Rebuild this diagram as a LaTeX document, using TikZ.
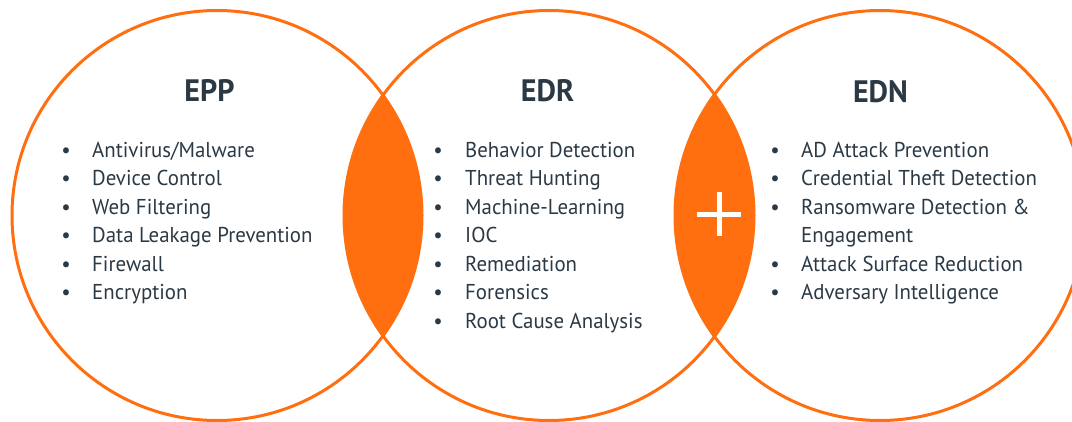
\documentclass[tikz,border=0pt]{standalone}
\usepackage{fontspec}
\setmainfont{PT Sans}[FakeStretch=0.97]
\usetikzlibrary{positioning}
\definecolor{flame}{HTML}{FF6F10}
\definecolor{ink}{HTML}{2B3945}
\tikzset{
  ring/.style={draw=flame,line width=3pt},
  lens/.style={fill=flame},
  title/.style={font=\fontsize{31}{31}\selectfont\bfseries,text=ink,inner sep=0pt,anchor=base},
  item/.style={font=\fontsize{21.5}{28.5}\selectfont,text=ink,inner sep=0pt,anchor=base west},
  dot/.style={font=\fontsize{21.5}{28.5}\selectfont,text=ink,inner sep=0pt,anchor=base},
  cross/.style={draw=white,line width=5pt},
}

\begin{document}
\begin{tikzpicture}[x=1pt,y=-1pt]
\useasboundingbox (0,0) rectangle (1072,421);

% circle centres
\coordinate (epp) at (217,215.5);
\coordinate (edr) at (549,215.5);
\coordinate (edn) at (880,215.5);

% overlaps
\begin{scope}
  \clip (epp) circle[radius=205pt];
  \fill[lens] (edr) circle[radius=205pt];
\end{scope}
\begin{scope}
  \clip (edr) circle[radius=205pt];
  \fill[lens] (edn) circle[radius=205pt];
\end{scope}

\draw[ring] (epp) circle[radius=205pt];
\draw[ring] (edr) circle[radius=205pt];
\draw[ring] (edn) circle[radius=205pt];

% plus sign in the right overlap
\coordinate (plus) at (719,214);
\draw[cross] (plus) ++(0,-22) -- ++(0,44) (plus) ++(-22,0) -- ++(44,0);

% titles
\node[title] (tepp) at (209.5,101) {EPP};
\node[title] (tedr) at (547.5,101) {EDR};
\node[title] (tedn) at (880.5,102) {EDN};

% EPP list
\foreach \t [count=\i from 0] in {Antivirus/Malware, Device Control, Web Filtering, Data Leakage Prevention, Firewall, Encryption}{
  \node[item] (epp\i) at (92,157+28.5*\i) {\t};
  \node[dot] at (66,157+28.5*\i) {\textbullet};
}

% EDR list
\foreach \t [count=\i from 0] in {Behavior Detection, Threat Hunting, Machine-Learning, IOC, Remediation, Forensics, Root Cause Analysis}{
  \node[item] (edr\i) at (465,157+28.5*\i) {\t};
  \node[dot] at (438,157+28.5*\i) {\textbullet};
}

% EDN list
\foreach \t [count=\i from 0] in {AD Attack Prevention, Credential Theft Detection, Ransomware Detection \&, Engagement, Attack Surface Reduction, Adversary Intelligence}
  \node[item] (edn\i) at (801,157+28.5*\i) {\t};
\foreach \i in {0,1,2,4,5}
  \node[dot] at (775,157+28.5*\i) {\textbullet};

\end{tikzpicture}
\end{document}
